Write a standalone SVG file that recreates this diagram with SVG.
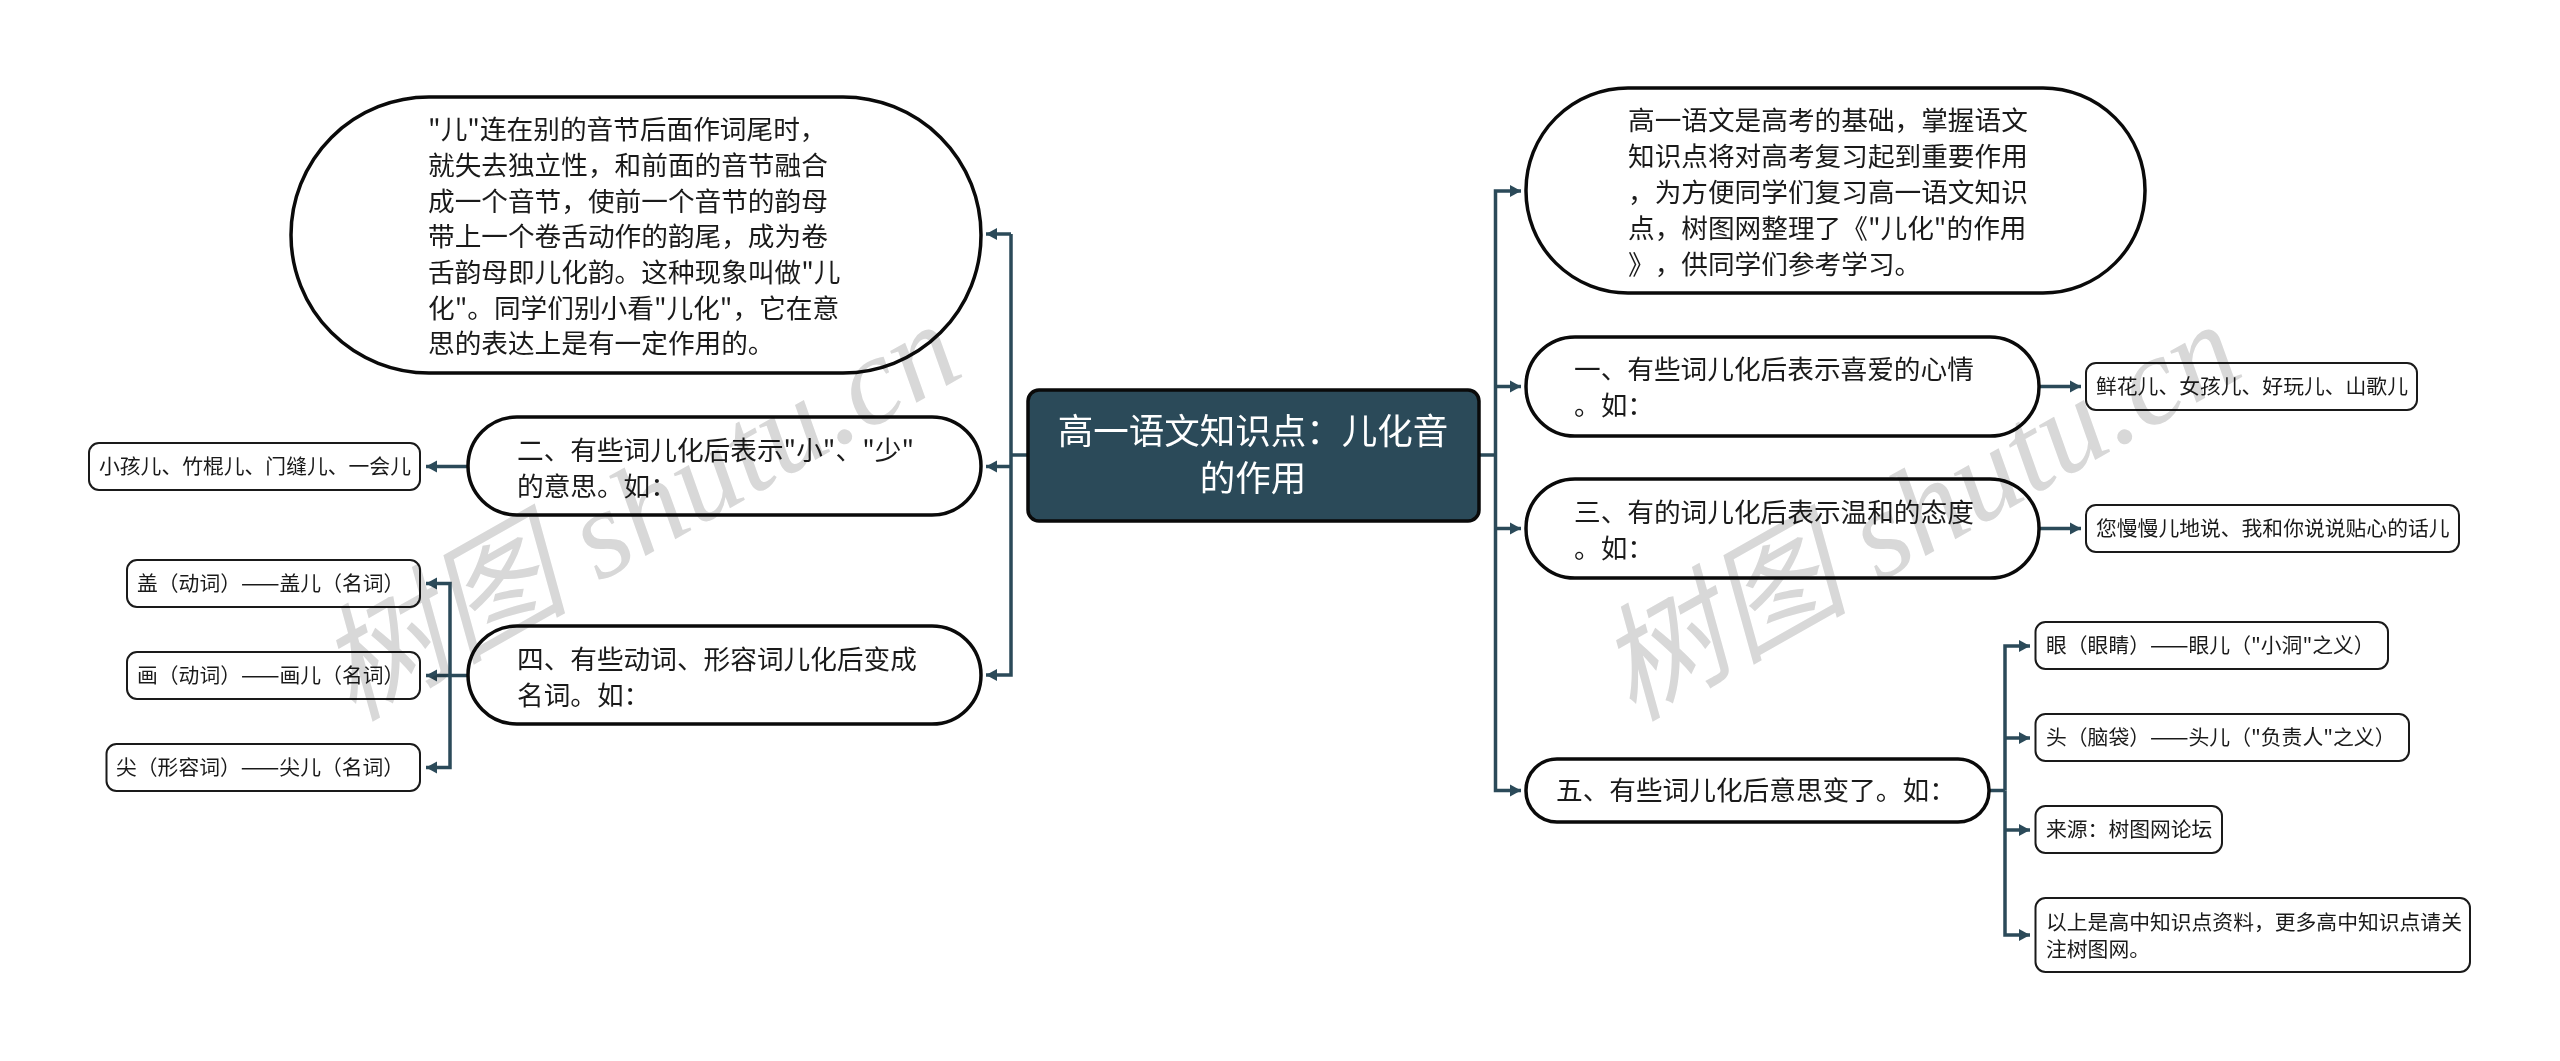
<svg xmlns="http://www.w3.org/2000/svg" width="2560" height="1061" viewBox="0 0 2560 1061">
<style>
text{font-family:"Noto Sans CJK SC","Noto Sans",sans-serif;fill:#1a1a1a;text-spacing-trim:space-all}
.pill{fill:#fff;stroke:#0a0a0a;stroke-width:3.5}
.box{fill:#fff;stroke:#1a1a1a;stroke-width:2}
.m{font-size:26.67px}
.s{font-size:20.8px}
.d{font-size:23px}
.r{font-size:35.5px;fill:#fff;text-anchor:middle}
.c{fill:none;stroke:#2b4a59;stroke-width:3.500}
.wm{font-family:"Liberation Serif","Noto Sans CJK SC",serif;font-style:italic;font-size:126px;fill:#d8d8d8;mix-blend-mode:multiply}
</style>
<defs>
<marker id="a" markerUnits="userSpaceOnUse" markerWidth="12" markerHeight="14" refX="11" refY="7" orient="auto"><path d="M0 1L11 7L0 13Z" fill="#2b4a59"/></marker>
</defs>
<rect width="2560" height="1061" fill="#fff"/>
<g id="connectors">
<path class="c" d="M1028 455H1011"/>
<path class="c" marker-end="url(#a)" d="M1011 234H986"/>
<path class="c" marker-end="url(#a)" d="M1011 466.5H986"/>
<path class="c" marker-end="url(#a)" d="M1011 234V675H986"/>
<path class="c" marker-end="url(#a)" d="M468 466.5H426"/>
<path class="c" marker-end="url(#a)" d="M468 675.5H426"/>
<path class="c" marker-end="url(#a)" d="M450 675.5V583.5H426"/>
<path class="c" marker-end="url(#a)" d="M450 675.5V767.5H426"/>
<path class="c" d="M1479 455H1495.5"/>
<path class="c" marker-end="url(#a)" d="M1495.5 455V191H1521"/>
<path class="c" marker-end="url(#a)" d="M1495.5 386.5H1521"/>
<path class="c" marker-end="url(#a)" d="M1495.5 528.5H1521"/>
<path class="c" marker-end="url(#a)" d="M1495.5 455V790.5H1521"/>
<path class="c" marker-end="url(#a)" d="M2039 386.5H2081"/>
<path class="c" marker-end="url(#a)" d="M2039 528.5H2081"/>
<path class="c" d="M1989 790.5H2005"/>
<path class="c" marker-end="url(#a)" d="M2005 790.5V646H2030"/>
<path class="c" marker-end="url(#a)" d="M2005 738H2030"/>
<path class="c" marker-end="url(#a)" d="M2005 830H2030"/>
<path class="c" marker-end="url(#a)" d="M2005 790.5V935H2030"/>
</g>
<g id="root">
<rect x="1028" y="390" width="451" height="131" rx="11" fill="#2b4a59" stroke="#0a0a0a" stroke-width="3.5"/>
<text class="r" x="1253" y="444">高一语文知识点：儿化音</text>
<text class="r" x="1253" y="491">的作用</text>
</g>
<g id="node-intro-left">
<rect class="pill" x="291" y="97" width="690" height="276" rx="138"/>
<text class="m" x="428" y="139">"儿"连在别的音节后面作词尾时，</text>
<text class="m" x="428" y="175">就失去独立性，和前面的音节融合</text>
<text class="m" x="428" y="211">成一个音节，使前一个音节的韵母</text>
<text class="m" x="428" y="246">带上一个卷舌动作的韵尾，成为卷</text>
<text class="m" x="428" y="282">舌韵母即儿化韵。这种现象叫做"儿</text>
<text class="m" x="428" y="318">化"。同学们别小看"儿化"，它在意</text>
<text class="m" x="428" y="353">思的表达上是有一定作用的。</text>
</g>
<g id="node-2">
<rect class="pill" x="468" y="417" width="513" height="98" rx="49"/>
<text class="m" x="517" y="460">二、有些词儿化后表示"小"、"少"</text>
<text class="m" x="517" y="496">的意思。如：</text>
</g>
<g id="node-2-1">
<rect class="box" x="89" y="443" width="331" height="47" rx="10"/>
<text class="s" x="99" y="474">小孩儿、竹棍儿、门缝儿、一会儿</text>
</g>
<g id="node-4">
<rect class="pill" x="468" y="626" width="513" height="98" rx="49"/>
<text class="m" x="517" y="669">四、有些动词、形容词儿化后变成</text>
<text class="m" x="517" y="705">名词。如：</text>
</g>
<g id="node-4-1">
<rect class="box" x="127" y="560" width="293" height="47" rx="10"/>
<text class="s" x="137" y="591">盖（动词）<tspan class="d">——</tspan>盖儿（名词）</text>
</g>
<g id="node-4-2">
<rect class="box" x="127" y="652" width="293" height="47" rx="10"/>
<text class="s" x="137" y="683">画（动词）<tspan class="d">——</tspan>画儿（名词）</text>
</g>
<g id="node-4-3">
<rect class="box" x="106.500" y="744" width="313.500" height="47" rx="10"/>
<text class="s" x="116" y="775">尖（形容词）<tspan class="d">——</tspan>尖儿（名词）</text>
</g>
<g id="node-intro-right">
<rect class="pill" x="1526" y="88" width="619" height="205" rx="102"/>
<text class="m" x="1628" y="130">高一语文是高考的基础，掌握语文</text>
<text class="m" x="1628" y="166">知识点将对高考复习起到重要作用</text>
<text class="m" x="1628" y="202">，为方便同学们复习高一语文知识</text>
<text class="m" x="1628" y="238">点，树图网整理了《"儿化"的作用</text>
<text class="m" x="1628" y="274">》，供同学们参考学习。</text>
</g>
<g id="node-1">
<rect class="pill" x="1526" y="337" width="513" height="99" rx="49"/>
<text class="m" x="1574" y="379">一、有些词儿化后表示喜爱的心情</text>
<text class="m" x="1574" y="415">。如：</text>
</g>
<g id="node-1-1">
<rect class="box" x="2086" y="363" width="331" height="47" rx="10"/>
<text class="s" x="2096" y="394">鲜花儿、女孩儿、好玩儿、山歌儿</text>
</g>
<g id="node-3">
<rect class="pill" x="1526" y="479" width="513" height="99" rx="49"/>
<text class="m" x="1574" y="522">三、有的词儿化后表示温和的态度</text>
<text class="m" x="1574" y="558">。如：</text>
</g>
<g id="node-3-1">
<rect class="box" x="2086" y="505" width="373" height="47" rx="10"/>
<text class="s" x="2096" y="536">您慢慢儿地说、我和你说说贴心的话儿</text>
</g>
<g id="node-5">
<rect class="pill" x="1526" y="759" width="463" height="63" rx="31"/>
<text class="m" x="1556" y="800">五、有些词儿化后意思变了。如：</text>
</g>
<g id="node-5-1">
<rect class="box" x="2035.500" y="622" width="352.500" height="47" rx="10"/>
<text class="s" x="2046" y="653">眼（眼睛）<tspan class="d">——</tspan>眼儿（"小洞"之义）</text>
</g>
<g id="node-5-2">
<rect class="box" x="2035.500" y="714" width="373.500" height="47" rx="10"/>
<text class="s" x="2046" y="745">头（脑袋）<tspan class="d">——</tspan>头儿（"负责人"之义）</text>
</g>
<g id="node-5-3">
<rect class="box" x="2035.500" y="806" width="186.500" height="47" rx="10"/>
<text class="s" x="2046" y="837">来源：树图网论坛</text>
</g>
<g id="node-5-4">
<rect class="box" x="2035.500" y="898" width="434.500" height="74" rx="10"/>
<text class="s" x="2046" y="930">以上是高中知识点资料，更多高中知识点请关</text>
<text class="s" x="2046" y="957">注树图网。</text>
</g>
<g id="watermark">
<text class="wm" transform="translate(352 722) rotate(-29.500)">树图 shutu.cn</text>
<text class="wm" transform="translate(1632 722) rotate(-29.500)">树图 shutu.cn</text>
</g>
</svg>
